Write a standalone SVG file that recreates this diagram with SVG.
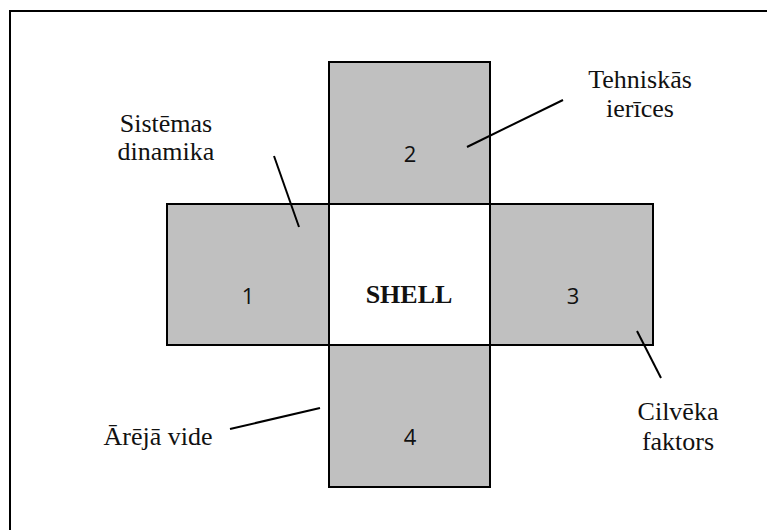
<svg xmlns="http://www.w3.org/2000/svg" width="767" height="530" viewBox="0 0 767 530">
<style>
.box{fill:#c0c0c0;stroke:#000;stroke-width:2}
.core{fill:#fff;stroke:#000;stroke-width:2}
.lbl{font-family:"Liberation Serif","Times New Roman",serif;font-size:26px;fill:#111;text-anchor:middle}
.num{font-family:"Open Sans","Noto Sans",sans-serif;font-size:22px;fill:#111;text-anchor:middle}
.shell{font-family:"Liberation Serif","Times New Roman",serif;font-size:26px;font-weight:bold;fill:#111;text-anchor:middle}
.ln{stroke:#000;stroke-width:2;fill:none}
</style>
<rect x="0" y="0" width="767" height="530" fill="#fff"/>
<rect x="10" y="11" width="780" height="540" fill="none" stroke="#000" stroke-width="2"/>
<g id="node-2"><rect class="box" x="329" y="62" width="161" height="142"/><text class="num" x="410" y="162">2</text></g>
<g id="node-1"><rect class="box" x="167" y="204" width="162" height="141"/><text class="num" x="248" y="304">1</text></g>
<g id="node-3"><rect class="box" x="490" y="204" width="163" height="141"/><text class="num" x="573" y="304">3</text></g>
<g id="node-4"><rect class="box" x="329" y="345" width="161" height="142"/><text class="num" x="410" y="445">4</text></g>
<g id="node-shell"><rect class="core" x="329" y="204" width="161" height="141"/><text class="shell" x="409" y="303">SHELL</text></g>
<g id="label-sistemas"><text class="lbl" x="166" y="132">Sistēmas</text><text class="lbl" x="166" y="160">dinamika</text></g>
<g id="label-tehniskas"><text class="lbl" x="640" y="88">Tehniskās</text><text class="lbl" x="640" y="117">ierīces</text></g>
<g id="label-cilveka"><text class="lbl" x="678" y="420">Cilvēka</text><text class="lbl" x="678" y="450">faktors</text></g>
<g id="label-areja"><text class="lbl" x="158" y="445">Ārējā vide</text></g>
<g id="connectors">
<line class="ln" x1="274" y1="156" x2="299" y2="227"/>
<line class="ln" x1="467" y1="147" x2="563" y2="100"/>
<line class="ln" x1="637" y1="331" x2="661" y2="378"/>
<line class="ln" x1="230" y1="429" x2="320" y2="408"/>
</g>
</svg>
